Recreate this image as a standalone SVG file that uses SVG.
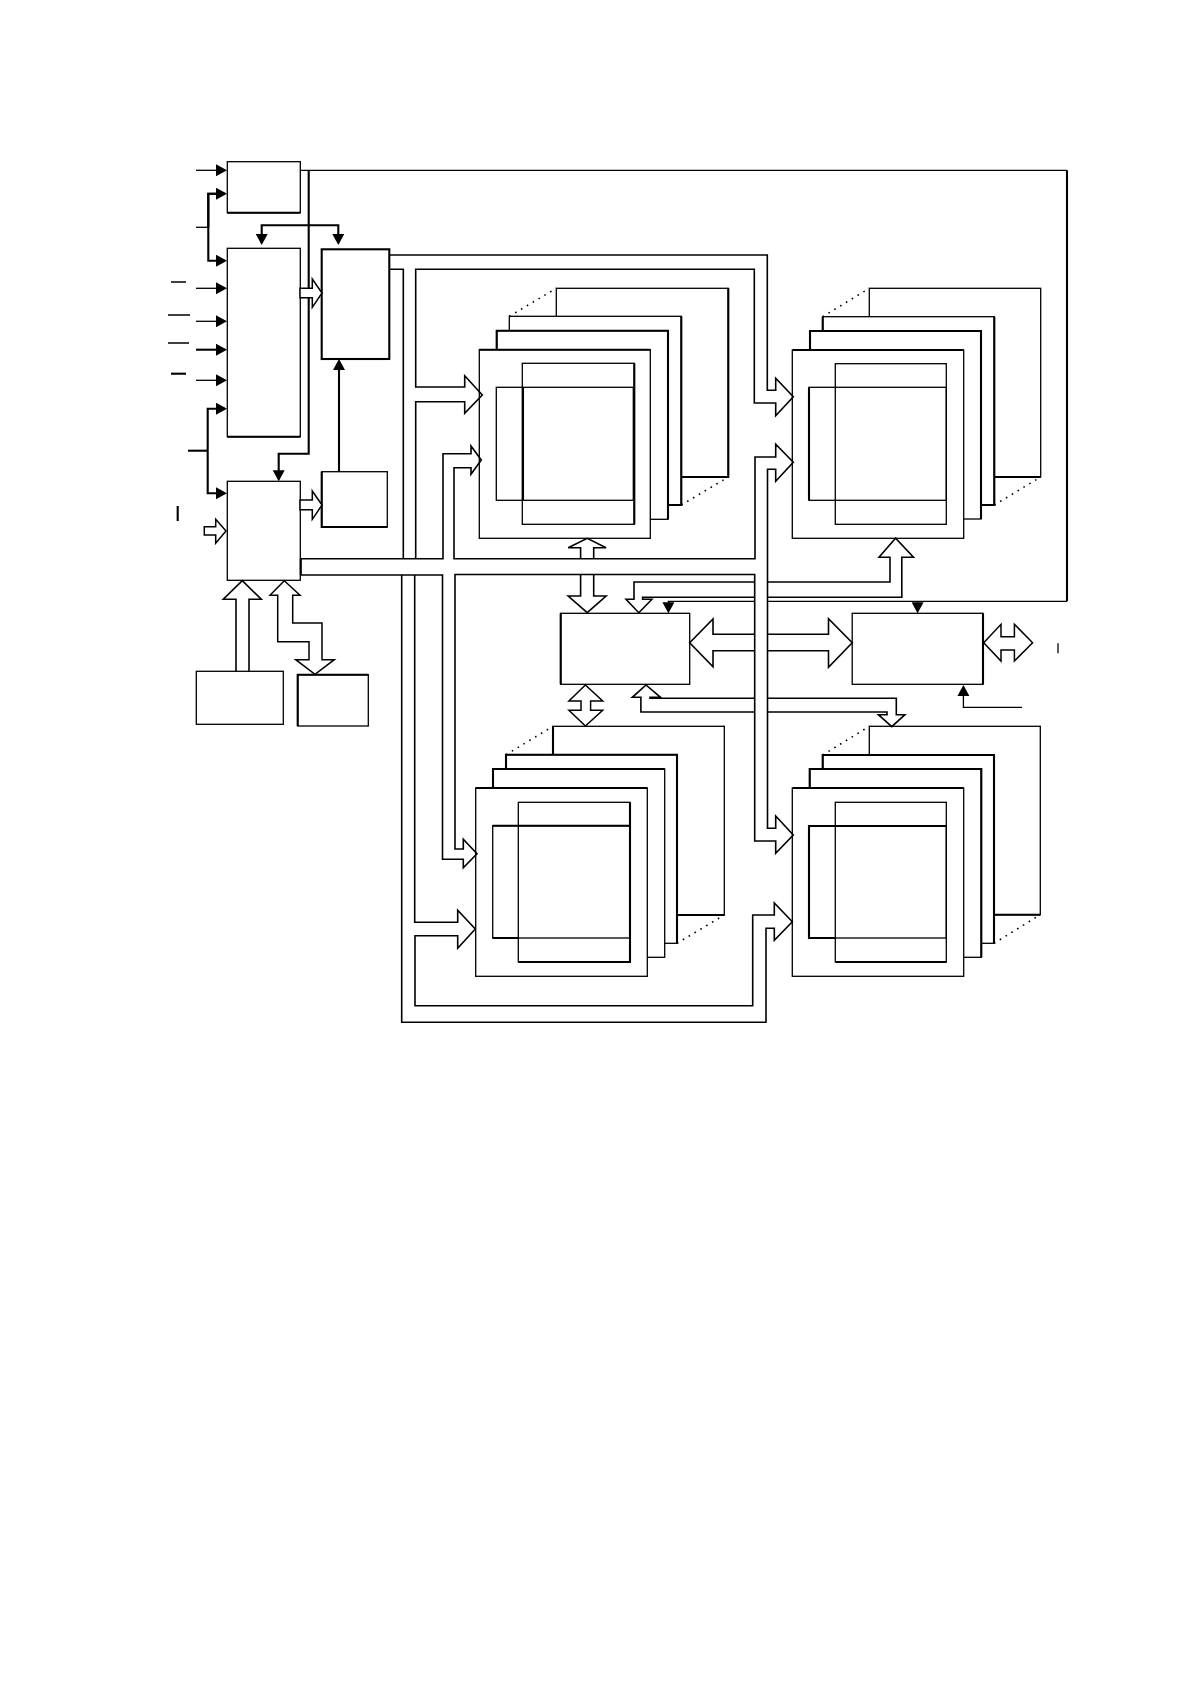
<svg xmlns="http://www.w3.org/2000/svg" width="1191" height="1684" viewBox="0 0 1191 1684">
<style>
.b{fill:#fff;stroke:#000;stroke-width:1.3}
.n{fill:none;stroke:#000;stroke-width:1.3}
.k{fill:none;stroke:#000;stroke-width:2.1}
.h{fill:#fff;stroke:#000;stroke-width:1.5}
.l{fill:none;stroke:#000;stroke-width:1.6}
.d{fill:none;stroke:#000;stroke-width:1.6;stroke-dasharray:1.6 5.2}
.a{marker-end:url(#tip)}
</style>
<defs>
<marker id="tip" markerUnits="userSpaceOnUse" markerWidth="11" markerHeight="12" refX="9" refY="6" orient="auto"><path d="M0,0L11,6L0,12z" fill="#000"/></marker>
</defs>
<rect width="1191" height="1684" fill="#fff"/>

<g id="box-a"><rect class="b" x="227.3" y="161.7" width="73" height="51"/><path class="k" d="M227.3,212.7H300.3"/></g>
<g id="box-b"><rect class="b" x="227.3" y="248.3" width="73" height="188.4"/><path class="k" d="M227.3,436.7H300.3"/></g>
<g id="box-c"><rect class="k" x="321.7" y="249.3" width="67.6" height="109.7" style="fill:#fff"/></g>
<g id="box-d"><rect class="b" x="321.7" y="471.7" width="65.6" height="55.3"/><path class="k" d="M321.7,471.7V527H387.3"/></g>
<g id="box-e"><rect class="b" x="227.3" y="481.3" width="73" height="99"/><path class="k" d="M300.8,558.7V575"/></g>
<g id="box-f"><rect class="b" x="196.3" y="671.3" width="87" height="53"/></g>
<g id="box-g"><rect class="b" x="297.7" y="674.7" width="70.6" height="51.3"/><path class="k" d="M297.7,726V674.7H368.3"/></g>
<g id="box-h"><rect class="b" x="560.7" y="613.3" width="129" height="71"/><path class="k" d="M560.7,613.3V684.3"/></g>
<g id="box-i"><rect class="b" x="852.2" y="613.3" width="130.8" height="71"/><path class="k" d="M983,613.3V684.3"/></g>

<g id="stack-tl">
<path class="d" d="M509.3,316.3L556.3,288.3M681.3,316.3L728.3,288.3M681.3,505L728.3,477"/>
<rect class="b" x="556.3" y="288.3" width="172" height="188.7"/><path class="k" d="M728.3,288.3V477H680"/>
<rect class="b" x="509.3" y="316.3" width="172" height="188.7"/><path class="k" d="M681.3,316.3V505H668"/>
<rect class="b" x="496.7" y="330.7" width="171.3" height="188.6"/><path class="k" d="M496.7,349V330.7H668V519.3"/>
<rect class="b" x="479.3" y="349.7" width="171" height="188.6"/><path class="k" d="M479.3,349.7H650.3"/>
<rect class="n" x="522.3" y="363.3" width="112" height="161"/><path class="k" d="M634.3,363.3V524.3M523,387V500"/>
<rect class="n" x="496.3" y="387.3" width="137" height="113"/>
</g>
<g id="stack-tr">
<path class="d" d="M822.7,316.7L869.3,288.3M994.3,316.7L1040.7,288.3M994.3,505L1040.7,477"/>
<rect class="b" x="869.3" y="288.3" width="171.4" height="188.7"/><path class="k" d="M1040.7,477H994"/>
<rect class="b" x="822.7" y="316.7" width="171.6" height="188.3"/><path class="k" d="M822.7,331V316.7M994.3,316.7V505H981"/>
<rect class="b" x="810" y="331" width="171" height="188"/><path class="k" d="M810,350V331H981V519"/>
<rect class="b" x="792.3" y="350" width="171.4" height="188.3"/><path class="k" d="M792.3,350H963.7"/>
<rect class="n" x="835.3" y="363.7" width="111" height="160.6"/>
<rect class="n" x="809" y="387.3" width="137.3" height="113"/><path class="k" d="M809,387.3V500.3"/>
</g>
<g id="stack-bl">
<path class="d" d="M506,754.7L553,726.3M677,754.7L724.3,726.3M677,943.3L724.3,915"/>
<rect class="b" x="553" y="726.3" width="171.3" height="188.7"/><path class="k" d="M553,754.7V726.3M724.3,915H677"/>
<rect class="b" x="506" y="754.7" width="171" height="188.6"/><path class="k" d="M506,769V754.7H677V943.3"/>
<rect class="b" x="493" y="769" width="171.7" height="188.3"/><path class="k" d="M493,788V769H664.7"/>
<rect class="b" x="475.7" y="788" width="171.6" height="188.3"/><path class="k" d="M475.7,788H647.3"/>
<rect class="n" x="518.3" y="802.3" width="111.7" height="159.7"/><path class="k" d="M630,802.3V962H518.3"/>
<rect class="n" x="492.7" y="825.7" width="137.3" height="112.3"/><path class="k" d="M492.7,825.7H630M492.7,938H518"/>
</g>
<g id="stack-br">
<path class="d" d="M822.7,755L869.3,726.3M994,755L1040.3,726.3M994,943.3L1040.3,914.7"/>
<rect class="b" x="869.3" y="726.3" width="171" height="188.4"/><path class="k" d="M1040.3,914.7H994"/>
<rect class="b" x="822.7" y="755" width="171.3" height="188.3"/><path class="k" d="M822.7,769V755H994V943.3"/>
<rect class="b" x="809.7" y="769" width="171.6" height="188.3"/><path class="k" d="M809.7,788V769H981.3V957.3"/>
<rect class="b" x="792.3" y="788" width="171.4" height="188.3"/><path class="k" d="M792.3,788H963.7"/>
<rect class="n" x="835.3" y="802.3" width="111" height="159.7"/><path class="k" d="M835.3,962H946.3"/>
<rect class="n" x="809" y="826" width="137.3" height="112"/><path class="k" d="M946.3,826H809V938H835"/>
</g>

<g id="connectors">
<path class="n a" d="M196,170.3H225"/>
<path class="n" d="M196,227.3H208.3"/>
<path class="k a" d="M225,193.7H208.3V260.7H225" style="marker-start:none"/>
<path class="k a" d="M208.3,227.3V193.7H225"/>
<path class="n a" d="M196,288.3H225"/>
<path class="n a" d="M196,321.3H225"/>
<path class="k a" d="M196,349.7H225"/>
<path class="n a" d="M196,380.3H225"/>
<path class="k a" d="M207.7,450.7V408.7H225"/>
<path class="k a" d="M207.7,450.7V493.3H225"/>
<path class="k" d="M188,450.7H207.7"/>
<path class="n" d="M171,282H186M168,315H190M168,343H189"/>
<path class="k" d="M171,373.7H186"/>
<path class="k" d="M177.7,506V521"/>
<path class="k a" d="M300,225.3H261.7V243"/>
<path class="k a" d="M300,225.3H338.3V243"/>
<path class="k a" d="M308.7,170.3V453.7H278.7V479.3"/>
<path class="k a" d="M339,471.7V361"/>
<path class="h" d="M300,288.3H312.3V279L322,293L312.3,307.3V297.7H300z"/>
<path class="h" d="M300,500H312.3V491L322,505L312.3,519.3V509.7H300z"/>
<path class="h" d="M204.3,526.7H215.7V519.3L226,531L215.7,543.3V535H204.3z"/>
<path class="l" d="M236,671.3V599.3H223.3L242.3,580.7L261.3,599.3H249V671.3"/>
<path class="h" d="M284.3,580.7L270,595.3H277.7V641.7H309V659.7H295.7L315,674.3L334.3,659.7H322V623H292.7V595.3H300z"/>

<path class="l" d="M389.3,255H767.3V390.3H775.7V378.3L793.3,396.7L775.7,415.7V403H754.3V269.3H415.7V387H464.7V375.7L482.3,395L464.7,413.3V401.7H415.7V558.7"/>
<path class="l" d="M389.3,269.3H403.3V558.7"/>
<path class="l" d="M414.7,575V922.3H457.7V910.3L475.3,929L457.7,948.3V935.7H415V1005.7H752.7V915H774.3V903L792.3,921.7L774.3,940.3V928.3H766V1022.3H401.7V575"/>
<path class="l" d="M300.3,558.7H443V453.7H471V446L481.3,460L471,474.3V467.7H454V558.7H755V457H775.7V444.3L793.3,462.3L775.7,481.3V469.3H767.5V828.3H775.7V816L793.3,835L775.7,853.3V841H754.7V574.5H455V849H463.3V839.3L477,853.7L463.3,867.7V859.3H442.5V575H300.3"/>

<path class="l" d="M580.6,558.7V547.7H568.2L587.2,538.3L606.1,547.7H593.7V558.7"/>
<path class="l" d="M580.6,574.5V596H568.2L587.2,612.7L606.1,596H593.7V574.5"/>
<path class="l" d="M767.5,582H890V557.3H879L895.6,538.3L913.5,557.3H901.8V597.3H767.5"/>
<path class="l" d="M754.7,582H634V599.3H626L638.8,612.7L651.9,599.3H642.6V597.3H754.7"/>
<path class="n a" d="M754.7,601.3H668.4V611.3"/>
<path class="n" d="M767.5,601.3H1067"/>
<path class="n a" d="M917.6,601.3V611.3"/>
<path class="n" d="M300.3,170.3H1067"/>
<path class="k" d="M1067,170.3V601.3"/>
<path class="l" d="M754.7,634.3H713V619L689.7,642.7L713,666.7V650.7H754.7"/>
<path class="l" d="M767.5,634.3H828.5V618.7L852.2,642.7L828.5,667.3V650.7H767.5"/>
<path class="h" d="M983.7,642.7L1001,624.3V636.7H1014.4V624.3L1032.6,642.7L1014.4,661V650H1001V661z"/>
<path class="n" d="M1058,643.3V653.3"/>
<path class="n a" d="M1022,707.3H963.4V687"/>
<path class="h" d="M585.4,685L568.9,701H581V710.3H568.9L585.4,726L602.7,710.3H590.6V701H602.7z"/>
<path class="l" d="M754.7,712H640.9V697.3H632.3L646,685L660.5,697.3H650V698.3H754.7"/>
<path class="l" d="M767.5,712H887V714.7H878.4L891.8,726.7L904.9,714.7H896.3V698.3H767.5"/>
</g>
</svg>
